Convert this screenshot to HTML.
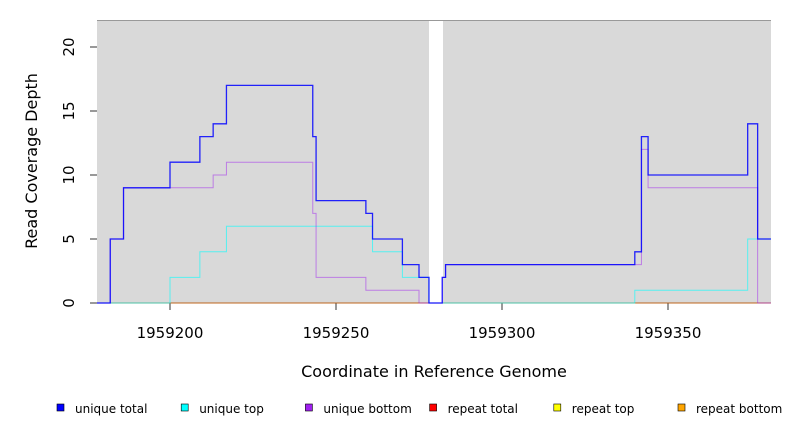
<!DOCTYPE html>
<html><head><meta charset="utf-8"><style>
body{margin:0;background:#fff;font-family:"DejaVu Sans","Liberation Sans",sans-serif;}
</style></head><body>
<svg id="c" width="792" height="432" xmlns="http://www.w3.org/2000/svg" style="font-family:'DejaVu Sans','Liberation Sans',sans-serif">
<rect x="97" y="20" width="332" height="283" fill="#d9d9d9"/>
<rect x="443" y="20" width="328" height="283" fill="#d9d9d9"/>
<line x1="97" y1="20.5" x2="771" y2="20.5" stroke="#999"/>
<g id="axes"></g>
<g id="series"></g>
<text x="434" y="377" text-anchor="middle" font-size="16">Coordinate in Reference Genome</text>
<text transform="translate(37,161) rotate(-90)" text-anchor="middle" font-size="16">Read Coverage Depth</text>
<g id="legend"></g>
</svg>
<script>
const xTicks=[1959200,1959250,1959300,1959350];
const yTicks=[0,5,10,15,20];
const totalX=[1959178,1959182,1959186,1959200,1959209,1959213,1959217,1959243,1959244,1959259,1959261,1959270,1959275,1959278,1959282,1959283,1959340,1959342,1959344,1959374,1959377,1959381];
const totalY=[0,5,9,11,13,14,17,13,8,7,5,3,2,0,2,3,4,13,10,14,5];
const topX=[1959178,1959200,1959209,1959217,1959261,1959270,1959278,1959340,1959374,1959381];
const topY=[0,2,4,6,4,2,0,1,5];
const botX=[1959178,1959182,1959186,1959213,1959217,1959243,1959244,1959259,1959275,1959282,1959283,1959342,1959344,1959377,1959381];
const botY=[0,5,9,10,11,7,2,1,0,2,3,12,9,0];
const legendLabels=["unique total","unique top","unique bottom","repeat total","repeat top","repeat bottom"];
const legendColors=["#0000ff","#00ffff","#a020f0","#ff0000","#ffff00","#ffa500"];
const NS="http://www.w3.org/2000/svg";
const sx=v=>170+(v-1959200)*3.32;
const sy=v=>303-v*12.8;
function mk(tag,attrs,parent){const e=document.createElementNS(NS,tag);for(const k in attrs)e.setAttribute(k,attrs[k]);parent.appendChild(e);return e;}
const ax=document.getElementById('axes');
yTicks.forEach(t=>{
  const l=mk('line',{x1:90,x2:97,y1:sy(t),y2:sy(t),stroke:'#333'},ax);
  
  
  const tx=mk('text',{transform:`translate(74,${sy(t)}) rotate(-90)`,'text-anchor':'middle','font-size':'15'},ax);
  tx.textContent=t;
  
  
});
xTicks.forEach(t=>{
  const l=mk('line',{x1:sx(t),x2:sx(t),y1:303,y2:310,stroke:'#333'},ax);
  
  
  const tx=mk('text',{x:sx(t),y:338,'text-anchor':'middle','font-size':'15'},ax);
  tx.textContent=t;
  
  
});
const sg=document.getElementById('series');
function step(xs,ys){let d=`M${sx(xs[0])},${sy(ys[0])}`;for(let i=0;i<ys.length;i++){d+=`H${sx(xs[i+1])}`;if(i+1<ys.length)d+=`V${sy(ys[i+1])}`;}return d;}
const zx=[1959178,1959381];
[["#ffa500","repeat-bottom-line"],["#00cc00","repeat-top-line"],["#ff0000","repeat-total-line"]].forEach(([c,n])=>{
  const p=mk('path',{d:step(zx,[0]),stroke:c,'stroke-width':1,fill:'none',opacity:0.5},sg);
  
  
});
const p1=mk('path',{d:step(topX,topY),stroke:'#00ffff','stroke-width':1,fill:'none',opacity:0.6},sg);


const p2=mk('path',{d:step(botX,botY),stroke:'#a020f0','stroke-width':1,fill:'none',opacity:0.5},sg);


const p3=mk('path',{d:step(totalX,totalY),stroke:'#0000ff','stroke-width':1.3,fill:'none',opacity:0.85},sg);


const lg=document.getElementById('legend');
legendLabels.forEach((lab,i)=>{
  const x=57+i*124.2;
  const r=mk('rect',{x:x,y:404,width:7,height:7,fill:legendColors[i],stroke:'#000','stroke-width':0.6},lg);
  
  
  const t=mk('text',{x:x+18,y:413,'font-size':'12'},lg);
  t.textContent=lab;
  
  
});
</script>
</body></html>
